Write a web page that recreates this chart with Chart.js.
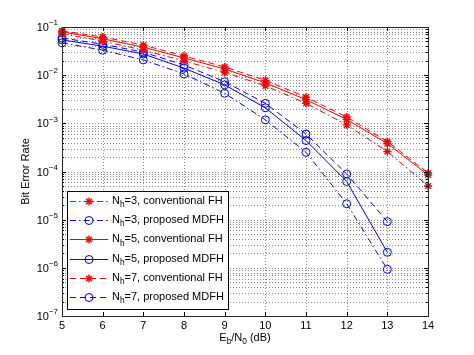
<!DOCTYPE html>
<html><head><meta charset="utf-8">
<script src="https://cdn.jsdelivr.net/npm/chart.js@4.4.0/dist/chart.umd.min.js"></script>
<style>html,body{margin:0;padding:0;background:#fff}</style>
</head><body>
<canvas id="c" width="474" height="355"></canvas>
<script>
// ---- data ----
const ebn0 = [5, 6, 7, 8, 9, 10, 11, 12, 13, 14];
const conv3 = [0.072, 0.051, 0.033, 0.0197, 0.0114, 0.0060, 0.0026, 0.00093, 0.00026, 0.00005];
const conv5 = [0.079, 0.057, 0.038, 0.0228, 0.0134, 0.0069, 0.0031, 0.0012, 0.00038, 0.000085];
const conv7 = [0.083, 0.062, 0.042, 0.025, 0.0148, 0.0078, 0.0035, 0.00135, 0.00042, 0.000093];
const mdfh3 = [0.047, 0.033, 0.0207, 0.0106, 0.0042, 0.00118, 0.00025, 0.0000214, 0.00000093];
const mdfh5 = [0.054, 0.040, 0.0275, 0.014, 0.0063, 0.0021, 0.00044, 0.000062, 0.0000021];
const mdfh7 = [0.059, 0.044, 0.030, 0.0163, 0.0073, 0.0026, 0.0006, 0.000089, 0.0000091];
const xTickLabels = ['5','6','7','8','9','10','11','12','13','14'];
const yTickExponents = [-7, -6, -5, -4, -3, -2, -1];
const seriesLabels = [
  'N_h=3, conventional FH',
  'N_h=3, proposed MDFH',
  'N_h=5, conventional FH',
  'N_h=5, proposed MDFH',
  'N_h=7, conventional FH',
  'N_h=7, proposed MDFH'
];
const xTitle = 'E_b/N_0 (dB)';
const yTitle = 'Bit Error Rate';

// ---- styles ----
const RED = '#ff0000', BLUE = '#0000ff';
const DASHDOT = [6, 3, 1.5, 3], DASH = [6, 4], SOLID = [];
const FONT = '"Liberation Sans", Arial, Helvetica, sans-serif';

function pts(vals) { return vals.map((v, i) => ({ x: ebn0[i], y: v })); }
function ds(label, vals, color, dash, style) {
  return {
    label, data: pts(vals), borderColor: color, backgroundColor: 'rgba(0,0,0,0)',
    borderWidth: 1, borderDash: dash, pointStyle: style,
    pointRadius: 4, pointBorderColor: color,
    pointBackgroundColor: 'rgba(0,0,0,0)', pointBorderWidth: style === 'star' ? 1.4 : 1,
    tension: 0, clip: false
  };
}
const datasets = [
  ds(seriesLabels[0], conv3, RED, DASHDOT, 'star'),
  ds(seriesLabels[1], mdfh3, BLUE, DASHDOT, 'circle'),
  ds(seriesLabels[2], conv5, RED, SOLID, 'star'),
  ds(seriesLabels[3], mdfh5, BLUE, SOLID, 'circle'),
  ds(seriesLabels[4], conv7, RED, DASH, 'star'),
  ds(seriesLabels[5], mdfh7, BLUE, DASH, 'circle')
];

// draw text with "_x" subscripts
function drawSub(ctx, text, x, y, size, align) {
  const parts = [];
  const re = /_(\w)/g; let last = 0, m;
  while ((m = re.exec(text))) {
    if (m.index > last) parts.push({ t: text.slice(last, m.index), sub: false });
    parts.push({ t: m[1], sub: true }); last = re.lastIndex;
  }
  if (last < text.length) parts.push({ t: text.slice(last), sub: false });
  let w = 0;
  parts.forEach(p => { ctx.font = (p.sub ? size * 0.75 : size) + 'px ' + FONT; p.w = ctx.measureText(p.t).width; w += p.w; });
  let cx = align === 'center' ? x - w / 2 : (align === 'right' ? x - w : x);
  ctx.textAlign = 'left'; ctx.textBaseline = 'middle';
  parts.forEach(p => {
    ctx.font = (p.sub ? size * 0.75 : size) + 'px ' + FONT;
    ctx.fillText(p.t, cx, y + (p.sub ? size * 0.35 : 0));
    cx += p.w;
  });
}

const axesPlugin = {
  id: 'matlabAxes',
  beforeDatasetsDraw(chart) {
    const { ctx, chartArea: a, scales: { x, y } } = chart;
    ctx.save();
    ctx.strokeStyle = '#8a8a8a'; ctx.lineWidth = 1; ctx.setLineDash([1, 2]);
    ebn0.forEach(v => {
      if (v <= 5 || v >= 14) return;
      const px = Math.round(x.getPixelForValue(v)) + 0.5;
      ctx.beginPath(); ctx.moveTo(px, a.top); ctx.lineTo(px, a.bottom); ctx.stroke();
    });
    yTickExponents.forEach(e => {
      for (let m = 1; m <= 9; m++) {
        const v = m * Math.pow(10, e);
        if (v <= 1e-7 * 1.0001 || v >= 1e-1 * 0.9999) continue;
        const py = Math.round(y.getPixelForValue(v)) + 0.5;
        ctx.beginPath(); ctx.moveTo(a.left, py); ctx.lineTo(a.right, py); ctx.stroke();
      }
    });
    ctx.restore();
  },
  afterDraw(chart) {
    const { ctx, chartArea: a, scales: { x, y } } = chart;
    ctx.save();
    ctx.setLineDash([]);
    ctx.strokeStyle = '#000'; ctx.lineWidth = 1;
    // ticks
    ctx.beginPath();
    ebn0.forEach(v => {
      const px = Math.round(x.getPixelForValue(v)) + 0.5;
      ctx.moveTo(px, a.bottom); ctx.lineTo(px, a.bottom - 4);
      ctx.moveTo(px, a.top); ctx.lineTo(px, a.top + 4);
    });
    yTickExponents.forEach(e => {
      for (let m = 1; m <= 9; m++) {
        const v = m * Math.pow(10, e);
        if (v > 1e-1 * 1.0001) continue;
        const py = Math.round(y.getPixelForValue(v)) + 0.5;
        const len = m === 1 ? 4 : 2;
        ctx.moveTo(a.left, py); ctx.lineTo(a.left + len, py);
        ctx.moveTo(a.right, py); ctx.lineTo(a.right - len, py);
      }
    });
    ctx.stroke();
    // border
    ctx.strokeStyle = '#262626';
    ctx.strokeRect(Math.round(a.left) + 0.5, Math.round(a.top) + 0.5, Math.round(a.right - a.left), Math.round(a.bottom - a.top));
    // tick labels
    ctx.fillStyle = '#000';
    ctx.font = '11px ' + FONT; ctx.textAlign = 'center'; ctx.textBaseline = 'middle';
    ebn0.forEach((v, i) => ctx.fillText(xTickLabels[i], x.getPixelForValue(v), a.bottom + 10));
    yTickExponents.forEach(e => {
      const py = y.getPixelForValue(Math.pow(10, e));
      ctx.font = '8px ' + FONT; ctx.textAlign = 'right';
      const sup = '\u2212' + Math.abs(e);
      const sw = ctx.measureText(sup).width;
      ctx.fillText(sup, 58, py - 4);
      ctx.font = '11px ' + FONT;
      ctx.fillText('10', 58 - sw, py + 1);
    });
    // axis titles
    drawSub(ctx, xTitle, (a.left + a.right) / 2, a.bottom + 22, 11, 'center');
    ctx.save();
    ctx.translate(26, (a.top + a.bottom) / 2); ctx.rotate(-Math.PI / 2);
    ctx.font = '11px ' + FONT; ctx.textAlign = 'center'; ctx.textBaseline = 'middle';
    ctx.fillText(yTitle, 0, 0);
    ctx.restore();
    // legend
    const lx = 67.5, ly = 191.5, lw = 161, lh = 118;
    ctx.fillStyle = '#fff'; ctx.fillRect(lx, ly, lw, lh);
    ctx.strokeStyle = '#000'; ctx.lineWidth = 1; ctx.strokeRect(lx, ly, lw, lh);
    chart.data.datasets.forEach((d, i) => {
      const cy = 201 + i * 19.2;
      const ry = Math.round(cy) + 0.5;
      ctx.save();
      ctx.strokeStyle = d.borderColor; ctx.lineWidth = 1; ctx.setLineDash(d.borderDash);
      ctx.beginPath(); ctx.moveTo(70, ry); ctx.lineTo(108, ry); ctx.stroke();
      ctx.setLineDash([]);
      ctx.fillStyle = 'rgba(0,0,0,0)';
      ctx.strokeStyle = d.pointBorderColor;
      ctx.lineWidth = d.pointBorderWidth;
      Chart.helpers.drawPoint(ctx, { pointStyle: d.pointStyle, radius: d.pointRadius, borderWidth: d.pointBorderWidth, rotation: 0 }, 89, ry);
      ctx.restore();
      ctx.fillStyle = '#000';
      drawSub(ctx, d.label, 112, cy, 11, 'left');
    });
    ctx.restore();
  }
};

new Chart(document.getElementById('c'), {
  type: 'line',
  data: { datasets },
  options: {
    responsive: false, animation: false, devicePixelRatio: 1,
    layout: { padding: { left: 62, right: 46, top: 27, bottom: 39 } },
    plugins: { legend: { display: false }, tooltip: { enabled: false } },
    scales: {
      x: { type: 'linear', min: 5, max: 14, display: false },
      y: { type: 'logarithmic', min: 1e-7, max: 1e-1, display: false }
    }
  },
  plugins: [axesPlugin]
});
</script>
</body></html>
